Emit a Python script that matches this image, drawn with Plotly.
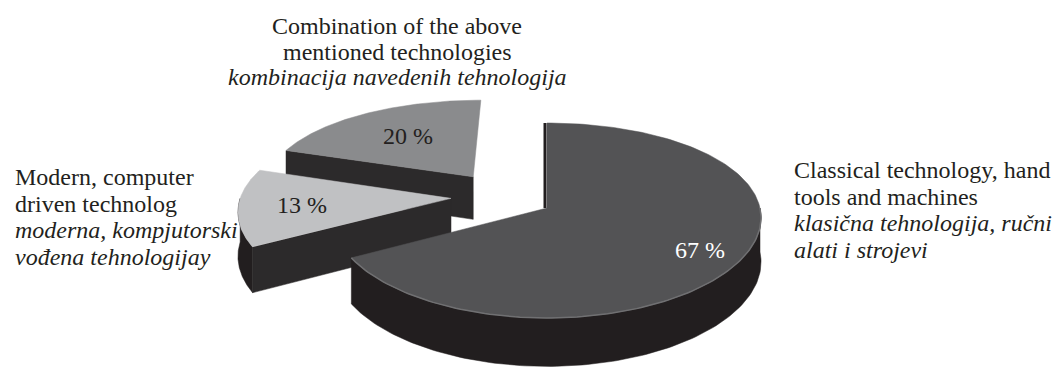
import numpy as np
import plotly.graph_objects as go

# Slices in clockwise order starting at 12 o'clock
shares = [67, 13, 20]
pct_labels = ["67 %", "13 %", "20 %"]
top_colors = ["#535355", "#c0c1c3", "#8a8b8d"]

label_classical = ["Classical technology, hand", "tools and machines",
                   "klasična tehnologija, ručni", "alati i strojevi"]
label_modern = ["Modern, computer", "driven technolog",
                "moderna, kompjutorski", "vođena tehnologijay"]
label_combined = ["Combination of the above", "mentioned technologies",
                  "kombinacija navedenih tehnologija"]

# explosion (distance in radii, direction in degrees) and value-label radius
explode = [(0.0, 0.0), (0.466, 167.6), (0.49, 137.0)]
label_r = [0.8, 0.7, 0.6]

W, H = 1053, 374
SERIF = "Liberation Serif, Times New Roman, serif"
FS = 24
TEXT = "#231f20"
WALL = "#221e1f"
CUT = "#2c2a2b"
RIM = "#707072"

# tilted-disk projection (unit-radius disk coords u, v; z = 0 top, 1 bottom)
CX, CY = 547, 208
RX, A, B, K, DEPTH = 213.0, 97.5, 12.5, 0.1, 44.0


def project(u, v, z=0.0):
    u = np.asarray(u, dtype=float)
    v = np.asarray(v, dtype=float)
    s = 1 - K * v
    x = CX + RX * u * s
    y = CY - A * v + B * v ** 2 + DEPTH * z * s
    return x, y


fig = go.Figure()


def poly(xs, ys, color):
    fig.add_trace(go.Scatter(
        x=np.append(xs, xs[0]), y=np.append(ys, ys[0]),
        mode="lines", fill="toself", fillcolor=color,
        line=dict(color=color, width=0.5),
        hoverinfo="skip", showlegend=False))


def stroke(xs, ys, color, width):
    fig.add_trace(go.Scatter(x=xs, y=ys, mode="lines",
                             line=dict(color=color, width=width),
                             hoverinfo="skip", showlegend=False))


total = float(sum(shares))
bounds = 90 - 360 * np.concatenate([[0], np.cumsum(shares)]) / total

slices = []
for i, share in enumerate(shares):
    t0, t1 = np.radians(bounds[i]), np.radians(bounds[i + 1])
    mid = (t0 + t1) / 2
    dist, ang = explode[i]
    pu, pv = dist * np.cos(np.radians(ang)), dist * np.sin(np.radians(ang))
    half = (t0 - t1) / 2
    cdist = (2 / 3) * np.sin(half) / half
    depth_key = pv + cdist * np.sin(mid)
    slices.append(dict(i=i, t0=t0, t1=t1, mid=mid, pu=pu, pv=pv, key=depth_key))

# paint back slices first
for sl in sorted(slices, key=lambda s: -s["key"]):
    i, t0, t1, pu, pv = sl["i"], sl["t0"], sl["t1"], sl["pu"], sl["pv"]
    rims = []

    # outer wall where it faces the viewer
    for k in (-1, 0, 1):
        lo = max(t1, np.radians(-180 + 360 * k))
        hi = min(t0, np.radians(0 + 360 * k))
        if hi - lo > 1e-3:
            t = np.linspace(hi, lo, 120)
            xt, yt = project(pu + np.cos(t), pv + np.sin(t), 0)
            xb, yb = project(pu + np.cos(t[::-1]), pv + np.sin(t[::-1]), 1)
            poly(np.concatenate([xt, xb]), np.concatenate([yt, yb]), WALL)
            rims.append((xt, yt))

    # radial cut faces: filled when facing the viewer, a thin edge when edge-on
    for te, sign in ((t0, 1), (t1, -1)):
        nv = sign * np.cos(te)
        us = [pu, pu + np.cos(te), pu + np.cos(te), pu]
        vs = [pv, pv + np.sin(te), pv + np.sin(te), pv]
        zs = [0, 0, 1, 1]
        pts = [project(u, v, z) for u, v, z in zip(us, vs, zs)]
        px = np.array([p[0] for p in pts])
        py = np.array([p[1] for p in pts])
        if nv < -0.05:
            poly(px, py, CUT)
        elif abs(nv) <= 0.05 and explode[i][0] == 0:
            stroke(px[:2] - 2, py[:2], WALL, 3)

    # top face
    t = np.linspace(t0, t1, 200)
    xs, ys = project(np.concatenate([[pu], pu + np.cos(t)]),
                     np.concatenate([[pv], pv + np.sin(t)]), 0)
    poly(xs, ys, top_colors[i])
    if i == 0:
        for xr, yr in rims:
            stroke(xr, yr, RIM, 1.5)

    # value label on the top face
    r = label_r[i]
    lx, ly = project(pu + r * np.cos(sl["mid"]), pv + r * np.sin(sl["mid"]), 0)
    fig.add_annotation(x=float(lx), y=float(ly), text=pct_labels[i], showarrow=False,
                       font=dict(family=SERIF, size=FS,
                                 color="white" if i == 0 else TEXT))


def text_block(lines, x, y0, step, anchor, italic_from):
    for j, line in enumerate(lines):
        txt = f"<i>{line}</i>" if j >= italic_from else line
        fig.add_annotation(x=x, y=y0 + j * step, text=txt, showarrow=False,
                           xanchor=anchor, yanchor="middle",
                           font=dict(family=SERIF, size=FS, color=TEXT))


text_block(label_combined, 397, 26, 25.5, "center", 2)
text_block(label_modern, 13, 177, 26.7, "left", 2)
text_block(label_classical, 792, 170, 26.7, "left", 2)

fig.update_layout(
    width=W, height=H,
    margin=dict(l=0, r=0, t=0, b=0),
    paper_bgcolor="white", plot_bgcolor="white",
    xaxis=dict(range=[0, W], visible=False, fixedrange=True),
    yaxis=dict(range=[H, 0], visible=False, fixedrange=True),
    showlegend=False,
)

fig.write_html("out.html")
